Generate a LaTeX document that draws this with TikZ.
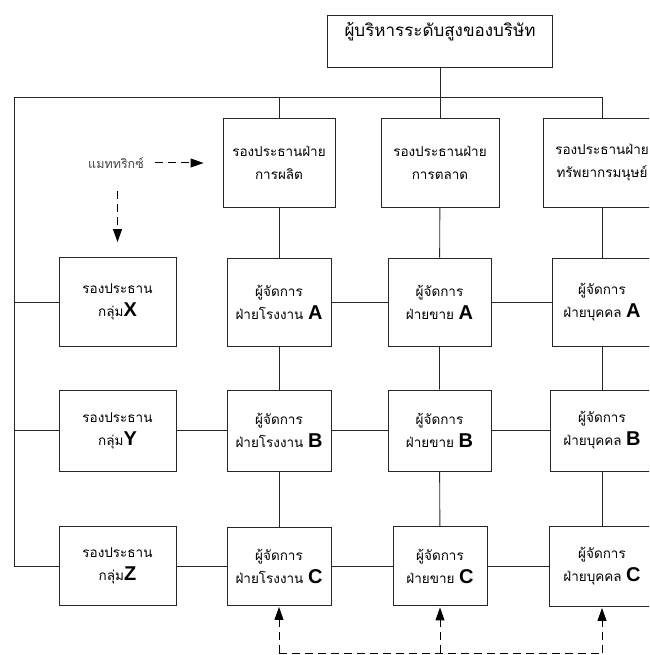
\documentclass[tikz,border=0pt]{standalone}
\usepackage{fontspec}
\setmainfont{Loma}[Script=Thai]
\newfontfamily\latinfont{Liberation Sans}
\usetikzlibrary{positioning}
\usetikzlibrary{arrows.meta}

\newcommand{\grpletter}[1]{{\latinfont\bfseries\fontsize{20}{20}\selectfont #1}}

\tikzset{
    box/.style={draw=black!85, line width=0.9pt, align=center, inner sep=0pt,
        font=\fontsize{13.5}{23}\selectfont},
    link/.style={draw=black!85, line width=0.9pt},
    matrixarrow/.style={draw=black, line width=1pt, dash pattern=on 8pt off 5pt,
        -{Triangle[length=13pt,width=9pt]}}
}

\begin{document}
\begin{tikzpicture}[x=1pt,y=-1pt]
    \useasboundingbox (0,0) rectangle (649,655);
    \clip (0,0) rectangle (649,655);

    % top and vice presidents
    \node[box, minimum width=225pt, minimum height=52pt, font=\fontsize{17}{24}\selectfont]
        (top) at (440,41) {ผู้บริหารระดับสูงของบริษัท\\ \mbox{}};
    \node[box, minimum width=112pt, minimum height=89pt] (vp1) at (279,162.5) {รองประธานฝ่าย\\การผลิต};
    \node[box, minimum width=118pt, minimum height=89pt] (vp2) at (440,162.5) {รองประธานฝ่าย\\การตลาด};
    \node[box, minimum width=118pt, minimum height=89pt] (vp3) at (602,162.5) {รองประธานฝ่าย\\ทรัพยากรมนุษย์};

    % group vice presidents
    \node[box, minimum width=117pt, minimum height=89pt] (grpX) at (117.5,302) {รองประธาน\\กลุ่ม\grpletter{X}};
    \node[box, minimum width=117pt, minimum height=81pt] (grpY) at (117.5,430.5) {รองประธาน\\กลุ่ม\grpletter{Y}};
    \node[box, minimum width=117pt, minimum height=79pt] (grpZ) at (117.5,566) {รองประธาน\\กลุ่ม\grpletter{Z}};

    % managers
    \node[box, minimum width=104pt, minimum height=88pt] (plantA) at (279,302) {ผู้จัดการ\\ฝ่ายโรงงาน \grpletter{A}};
    \node[box, minimum width=103pt, minimum height=88pt] (saleA) at (439.5,302) {ผู้จัดการ\\ฝ่ายขาย \grpletter{A}};
    \node[box, minimum width=100pt, minimum height=88pt] (hrA) at (602,302) {ผู้จัดการ\\ฝ่ายบุคคล \grpletter{A}};

    \node[box, minimum width=104pt, minimum height=81pt] (plantB) at (279,430.5) {ผู้จัดการ\\ฝ่ายโรงงาน \grpletter{B}};
    \node[box, minimum width=103pt, minimum height=81pt] (saleB) at (439.5,430.5) {ผู้จัดการ\\ฝ่ายขาย \grpletter{B}};
    \node[box, minimum width=104pt, minimum height=81pt] (hrB) at (602,430.5) {ผู้จัดการ\\ฝ่ายบุคคล \grpletter{B}};

    \node[box, minimum width=104pt, minimum height=78pt] (plantC) at (279,566) {ผู้จัดการ\\ฝ่ายโรงงาน \grpletter{C}};
    \node[box, minimum width=94pt, minimum height=79pt] (saleC) at (440,566) {ผู้จัดการ\\ฝ่ายขาย \grpletter{C}};
    \node[box, minimum width=106pt, minimum height=80pt] (hrC) at (602,566) {ผู้จัดการ\\ฝ่ายบุคคล \grpletter{C}};

    % main lines
    \coordinate (topleft) at (14,97);
    \coordinate (base) at (0,653);
    \draw[link] (top.south) -- (top.south |- topleft);
    \draw[link] (grpZ.west) -- (topleft |- grpZ) -- (topleft) -- (vp3.north |- topleft) -- (vp3.north);
    \draw[link] (vp1.north) -- (vp1.north |- topleft);
    \draw[link] (vp2.north) -- (vp2.north |- topleft);
    \draw[link] (grpX.west) -- (topleft |- grpX);
    \draw[link] (grpY.west) -- (topleft |- grpY);

    \foreach \col/\name in {1/plant,2/sale,3/hr}
        \draw[link] (vp\col) -- (\name A) -- (\name B) -- (\name C);
    \draw[link] (plantA) -- (saleA) -- (hrA);
    \draw[link] (grpY) -- (plantB) -- (saleB) -- (hrB);
    \draw[link] (grpZ) -- (plantC) -- (saleC) -- (hrC);

    % matrix
    \node[text=black!75, font=\fontsize{12.5}{12.5}\selectfont] (matrix) at (116,163) {แมททริกซ์};
    \draw[matrixarrow, shorten <=8pt, shorten >=19pt] (matrix.east) -- (matrix.east -| vp1.west);
    \draw[matrixarrow, shorten >=15pt] ([yshift=66pt]grpX.north) -- (grpX.north);

    \draw[matrixarrow, shorten >=1.5pt] (plantC |- base) -- (plantC.south);
    \draw[matrixarrow, shorten >=1.5pt] (saleC |- base) -- (saleC.south);
    \draw[matrixarrow, shorten >=1.5pt] (hrC |- base) -- (hrC.south);
    \draw[draw=black, line width=1pt, dash pattern=on 8pt off 5pt] (plantC |- base) -- (hrC |- base);
\end{tikzpicture}
\end{document}
